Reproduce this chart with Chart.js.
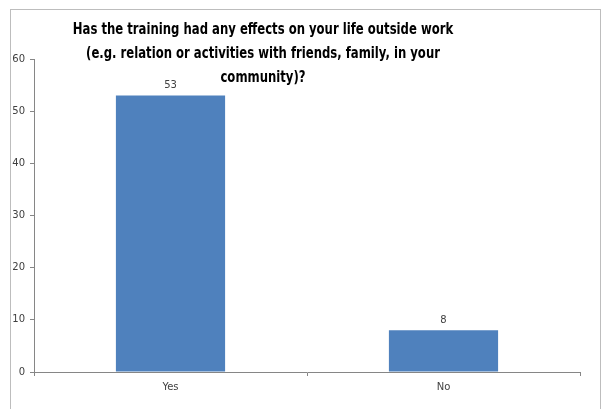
<!DOCTYPE html>
<html>
<head>
<meta charset="utf-8">
<script src="https://cdn.jsdelivr.net/npm/chart.js@4"></script>
<style>
  html, body { margin: 0; padding: 0; background: #fff; }
  #wrap { width: 605px; height: 409px; }
</style>
</head>
<body>
<div id="wrap"><canvas id="answerChart" width="605" height="409"></canvas></div>
<script>
  var categories = ['Yes', 'No'];
  var counts = [53, 8];
  var yTicks = [0, 10, 20, 30, 40, 50, 60];
  var titleLines = [
    'Has the training had any effects on your life outside work',
    '(e.g. relation or activities with friends, family, in your',
    'community)?'
  ];

  // outer frame + title drawn over the plot like the original spreadsheet chart
  var framePlugin = {
    id: 'frame',
    beforeDraw: function (chart) {
      var c = chart.ctx;
      c.save();
      c.strokeStyle = '#bdbdbd';
      c.lineWidth = 1;
      c.strokeRect(10.5, 9.5, 590, 420);
      c.restore();
    },
    afterDraw: function (chart) {
      var c = chart.ctx;
      c.save();
      c.fillStyle = '#000';
      c.font = 'bold 15px "DejaVu Sans Condensed", "DejaVu Sans", sans-serif';
      c.textAlign = 'center';
      c.textBaseline = 'middle';
      // squeeze the title a bit, the original face is narrower
      var sx = 0.864;
      titleLines.forEach(function (line, i) {
        c.save();
        c.translate(263, 30 + i * 24);
        c.scale(sx, 1);
        c.fillText(line, 0, 0);
        c.restore();
      });

      // value labels above bars
      c.font = '10px "DejaVu Sans"';
      c.fillStyle = '#404040';
      c.textBaseline = 'bottom';
      var meta = chart.getDatasetMeta(0);
      meta.data.forEach(function (bar, i) {
        c.fillText(String(counts[i]), bar.x, bar.y - 5);
      });
      c.restore();
    }
  };

  var ctx = document.getElementById('answerChart').getContext('2d');
  var answerChart = new Chart(ctx, {
    type: 'bar',
    data: {
      labels: categories,
      datasets: [{
        data: counts,
        backgroundColor: '#4f81bd',
        barPercentage: 0.4,
        categoryPercentage: 1.0
      }]
    },
    options: {
      responsive: false,
      animation: false,
      layout: { padding: { top: 59, right: 25, bottom: 0, left: 0 } },
      plugins: {
        legend: { display: false },
        tooltip: { enabled: false }
      },
      scales: {
        x: {
          afterFit: function (s) { s.height = 37; },
          grid: { drawOnChartArea: false, drawTicks: true, tickLength: 4, color: '#868686' },
          border: { color: '#868686' },
          ticks: { color: '#404040', font: { family: 'DejaVu Sans', size: 10 }, padding: 5 }
        },
        y: {
          min: 0,
          max: 60,
          afterFit: function (s) { s.width = 34; },
          afterBuildTicks: function (s) { s.ticks = yTicks.map(function (v) { return { value: v }; }); },
          grid: { drawOnChartArea: false, drawTicks: true, tickLength: 4, color: '#868686' },
          border: { color: '#868686' },
          ticks: { color: '#404040', font: { family: 'DejaVu Sans', size: 10 }, padding: 5 }
        }
      }
    },
    plugins: [framePlugin]
  });
</script>
</body>
</html>
